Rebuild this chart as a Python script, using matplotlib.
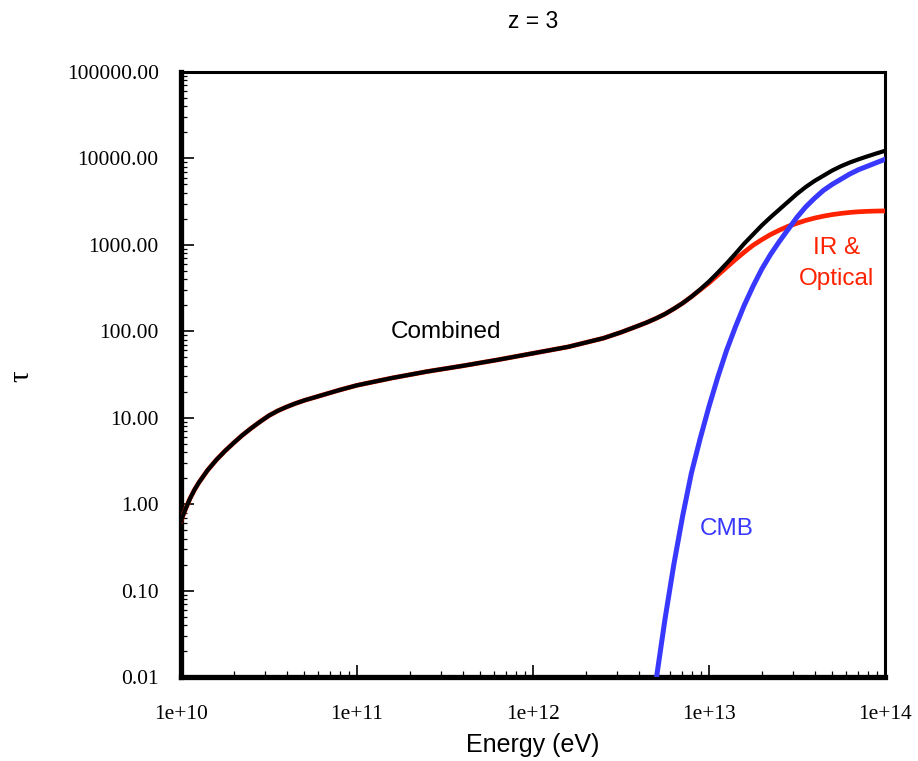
import numpy as np
import matplotlib
matplotlib.use("Agg")
import matplotlib.pyplot as plt
from matplotlib.ticker import LogLocator, FixedLocator, FixedFormatter, NullFormatter

# log10(Energy / eV) sample points and log10(tau)
log_energy_combined = [10.00, 10.025, 10.05, 10.075, 10.10, 10.15, 10.20, 10.25, 10.30, 10.35,
                       10.40, 10.45, 10.50, 10.55, 10.60, 10.65, 10.70, 10.80, 10.90, 11.00,
                       11.20, 11.40, 11.60, 11.80, 12.00, 12.20, 12.40, 12.50, 12.60, 12.65,
                       12.70, 12.75, 12.80, 12.85, 12.90, 12.95, 13.00, 13.05, 13.10, 13.15,
                       13.20, 13.25, 13.30, 13.35, 13.40, 13.45, 13.50, 13.55, 13.60, 13.65,
                       13.70, 13.75, 13.80, 13.85, 13.90, 13.95, 14.00]
log_tau_combined = [-0.19, -0.06, 0.06, 0.16, 0.245, 0.39, 0.51, 0.615, 0.71, 0.80,
                    0.88, 0.955, 1.025, 1.08, 1.125, 1.165, 1.20, 1.26, 1.32, 1.375,
                    1.46, 1.535, 1.60, 1.67, 1.745, 1.82, 1.92, 1.988, 2.065, 2.105,
                    2.15, 2.20, 2.26, 2.325, 2.40, 2.485, 2.576, 2.678, 2.785, 2.897,
                    3.014, 3.12, 3.225, 3.32, 3.41, 3.50, 3.59, 3.67, 3.74, 3.80,
                    3.86, 3.91, 3.953, 3.99, 4.024, 4.057, 4.088]

log_energy_ir = [10.00, 10.025, 10.05, 10.075, 10.10, 10.15, 10.20, 10.25, 10.30, 10.35,
                 10.40, 10.45, 10.50, 10.55, 10.60, 10.65, 10.70, 10.80, 10.90, 11.00,
                 11.20, 11.40, 11.60, 11.80, 12.00, 12.20, 12.40, 12.50, 12.60, 12.65,
                 12.70, 12.75, 12.80, 12.85, 12.90, 12.95, 13.00, 13.05, 13.10, 13.15,
                 13.20, 13.25, 13.30, 13.35, 13.40, 13.45, 13.50, 13.55, 13.60, 13.65,
                 13.70, 13.75, 13.80, 13.85, 13.90, 13.95, 14.00]
log_tau_ir = [-0.19, -0.06, 0.06, 0.16, 0.245, 0.39, 0.51, 0.615, 0.71, 0.80,
              0.88, 0.955, 1.025, 1.08, 1.125, 1.165, 1.20, 1.26, 1.32, 1.375,
              1.46, 1.535, 1.60, 1.67, 1.745, 1.82, 1.92, 1.988, 2.065, 2.105,
              2.15, 2.20, 2.26, 2.325, 2.40, 2.48, 2.56, 2.65, 2.74, 2.83,
              2.915, 2.995, 3.06, 3.12, 3.17, 3.215, 3.25, 3.283, 3.31, 3.332,
              3.35, 3.364, 3.375, 3.383, 3.388, 3.391, 3.393]

log_energy_cmb = [12.69, 12.70, 12.75, 12.80, 12.85, 12.90, 12.95, 13.00, 13.05, 13.10,
                  13.15, 13.20, 13.25, 13.30, 13.35, 13.40, 13.45, 13.50, 13.55, 13.60,
                  13.65, 13.70, 13.75, 13.80, 13.85, 13.90, 13.95, 14.00]
log_tau_cmb = [-2.18, -2.03, -1.33, -0.70, -0.14, 0.36, 0.76, 1.13, 1.47, 1.78,
               2.05, 2.30, 2.52, 2.72, 2.89, 3.04, 3.18, 3.32, 3.44, 3.54,
               3.63, 3.70, 3.76, 3.82, 3.87, 3.91, 3.95, 3.99]

ytick_values = [0.01, 0.1, 1, 10, 100, 1000, 10000, 100000]
ytick_labels = ["0.01", "0.10", "1.00", "10.00", "100.00", "1000.00", "10000.00", "100000.00"]
xtick_values = [1e10, 1e11, 1e12, 1e13, 1e14]
xtick_labels = ["1e+10", "1e+11", "1e+12", "1e+13", "1e+14"]

RED = "#ff2200"
BLUE = "#3838ff"

fig = plt.figure(figsize=(9.18, 7.61), dpi=100)
ax = fig.add_axes([181/918, 1 - 677/761, (885 - 181)/918, (677 - 72)/761])

ax.plot(10 ** np.array(log_energy_ir), 10 ** np.array(log_tau_ir),
        color=RED, lw=3.4, solid_joinstyle="round", zorder=3)
ax.plot(10 ** np.array(log_energy_combined), 10 ** np.array(log_tau_combined),
        color="black", lw=3.0, solid_joinstyle="round", zorder=4)
ax.plot(10 ** np.array(log_energy_cmb), 10 ** np.array(log_tau_cmb),
        color=BLUE, lw=3.6, solid_joinstyle="round", zorder=5)

ax.set_xscale("log")
ax.set_yscale("log")
ax.set_xlim(1e10, 1e14)
ax.set_ylim(0.01, 1e5)

serif = ["Liberation Serif", "DejaVu Serif"]
sans = ["Liberation Sans", "DejaVu Sans"]

ax.yaxis.set_major_locator(FixedLocator(ytick_values))
ax.yaxis.set_major_formatter(FixedFormatter(ytick_labels))
ax.xaxis.set_major_locator(FixedLocator(xtick_values))
ax.xaxis.set_major_formatter(FixedFormatter(xtick_labels))
ax.xaxis.set_minor_locator(LogLocator(base=10, subs=np.arange(2, 10), numticks=20))
ax.yaxis.set_minor_locator(LogLocator(base=10, subs=np.arange(2, 10), numticks=20))
ax.xaxis.set_minor_formatter(NullFormatter())
ax.yaxis.set_minor_formatter(NullFormatter())

ax.tick_params(which="major", direction="in", length=9, width=1.2, top=False, right=False)
ax.tick_params(which="minor", direction="in", length=4.5, width=0.9, top=False, right=False)
ax.tick_params(axis="x", which="major", pad=20)
ax.tick_params(axis="y", which="major", pad=16)
for lab in ax.get_xticklabels() + ax.get_yticklabels():
    lab.set_fontfamily(serif)
    lab.set_fontsize(15.5)

ax.spines["left"].set_linewidth(3.8)
ax.spines["bottom"].set_linewidth(3.8)
ax.spines["top"].set_linewidth(2.2)
ax.spines["right"].set_linewidth(2.2)


def fig_text(xpix, ypix, s, color="black", family=sans, size=17.5, rotation=0):
    fig.text(xpix/918, 1 - ypix/761, s, color=color, fontfamily=family, fontsize=size,
             ha="center", va="center", rotation=rotation)


fig_text(533, 745, "Energy (eV)", size=18)
fig_text(21, 376, "τ", family=serif, size=21, rotation=90)
fig_text(533, 22, "z = 3", size=16.5)

fig_text(446, 332, "Combined")
fig_text(837, 248, "IR &", color=RED)
fig_text(837, 279, "Optical", color=RED)
fig_text(727, 529, "CMB", color=BLUE)

fig.savefig("out.png", dpi=100)
